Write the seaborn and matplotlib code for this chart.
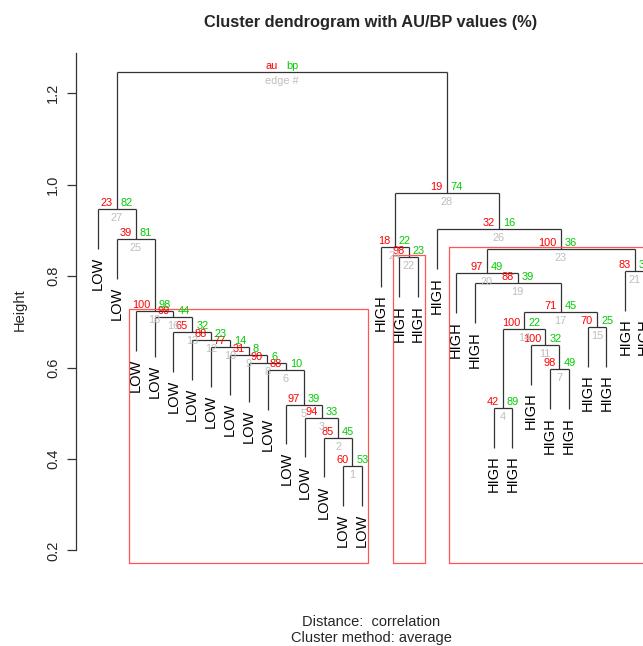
import matplotlib
matplotlib.use('Agg')
import matplotlib.pyplot as plt
import seaborn as sns

# leaves in plotting order (position 1..30)
leaf_labels = ['LOW', 'LOW', 'LOW', 'LOW', 'LOW', 'LOW', 'LOW', 'LOW', 'LOW', 'LOW',
               'LOW', 'LOW', 'LOW', 'LOW', 'LOW',
               'HIGH', 'HIGH', 'HIGH', 'HIGH', 'HIGH', 'HIGH', 'HIGH', 'HIGH', 'HIGH', 'HIGH',
               'HIGH', 'HIGH', 'HIGH', 'HIGH', 'HIGH']

# merge table, hclust style: negative = leaf position, positive = earlier edge #
merge_left = [-14, -13, -12, -22, -11, -10, -25, -9, -8, -7,
              -24, -6, -5, 4, -27, -4, 14, -3, -21, -20,
              -29, -17, 20, -16, -2, -19, -1, 24, 27]
merge_right = [-15, 1, 2, -23, 3, 5, -26, 6, 8, 9,
               7, 10, 12, 11, -28, 13, 15, 16, 17, 19,
               -30, -18, 21, 22, 18, 23, 25, 26, 28]
merge_height = [0.384, 0.446, 0.490, 0.511, 0.519, 0.594, 0.596, 0.611, 0.627, 0.644,
                0.649, 0.660, 0.677, 0.684, 0.688, 0.710, 0.721, 0.723, 0.784, 0.806,
                0.811, 0.841, 0.859, 0.863, 0.881, 0.902, 0.946, 0.981, 1.246]

# AU / BP p-values (%) for edges 1..28 (edge 29 is the root)
au_values = [60, 85, 94, 42, 97, 88, 98, 90, 31, 77,
             100, 88, 65, 100, 70, 99, 71, 100, 88, 97,
             83, 98, 100, 18, 39, 32, 23, 19]
bp_values = [53, 45, 33, 89, 39, 10, 49, 6, 8, 14,
             32, 23, 32, 22, 25, 44, 45, 98, 39, 49,
             34, 23, 36, 22, 81, 16, 82, 74]

alpha = 95

sns.set_style('white')
plt.rcParams['font.family'] = ['Liberation Sans', 'DejaVu Sans']

fig = plt.figure(figsize=(6.43, 6.46), dpi=100)
ax = fig.add_axes([76.2 / 643, 80 / 646, 589.8 / 643, 513 / 646])

n = len(leaf_labels)
ymin, ymax = 0.166, 1.288
ax.set_xlim(1 - 0.04 * (n - 1), n + 0.04 * (n - 1))
ax.set_ylim(ymin, ymax)

hang = 0.1 * (max(merge_height) - min(merge_height))
line_col = '#333333'
label_shift = matplotlib.transforms.ScaledTranslation(0, -8 / 100, fig.dpi_scale_trans)

# position of each merge and its members
centers, members = {}, {}
for i, (a, b, h) in enumerate(zip(merge_left, merge_right, merge_height), start=1):
    xs, mem = [], []
    for c in (a, b):
        if c < 0:
            x, y0 = -c, h - hang
            mem.append(-c)
            ax.text(x, y0, leaf_labels[-c - 1], rotation=90, ha='center', va='top',
                    fontsize=10.5, color='black', transform=ax.transData + label_shift)
        else:
            x, y0 = centers[c], merge_height[c - 1]
            mem += members[c]
        ax.plot([x, x], [y0, h], color=line_col, lw=0.9, solid_capstyle='butt')
        xs.append(x)
    ax.plot(xs, [h, h], color=line_col, lw=0.9, solid_capstyle='butt')
    centers[i] = sum(xs) / 2
    members[i] = mem

# au / bp / edge labels
small = 7.9
for i in range(1, len(merge_height) + 1):
    x, h = centers[i], merge_height[i - 1]
    if i <= len(au_values):
        a_txt, b_txt, e_txt = str(au_values[i - 1]), str(bp_values[i - 1]), str(i)
    else:
        a_txt, b_txt, e_txt = 'au', 'bp', 'edge #'
    ax.annotate(a_txt, (x, h), xytext=(-4, 6), textcoords='offset pixels',
                ha='right', va='center', color='#FF0000', fontsize=small)
    ax.annotate(b_txt, (x, h), xytext=(4, 6), textcoords='offset pixels',
                ha='left', va='center', color='#00CD00', fontsize=small)
    ax.annotate(e_txt, (x, h), xytext=(0, -4), textcoords='offset pixels',
                ha='center', va='top', color='#BEBEBE', fontsize=small)

# pvrect: largest clusters with au >= alpha
mx = (ax.get_xlim()[1] - ax.get_xlim()[0]) / n / 3
my = (ymax - ymin) / 200
taken = set()
for i in range(len(au_values), 0, -1):
    if au_values[i - 1] >= alpha:
        mem = members[i]
        if not taken.intersection(mem):
            xl, xr = min(mem) - mx, max(mem) + mx
            yt, yb = merge_height[i - 1] + my, ymin + my
            ax.plot([xl, xl, xr, xr, xl], [yb, yt, yt, yb, yb], color='#FF5555', lw=0.9)
        taken.update(mem)

# axes styling
sns.despine(ax=ax, top=True, right=True, bottom=True)
ax.spines['left'].set_bounds(0.2, ymax)
ax.spines['left'].set_color(line_col)
ax.spines['left'].set_linewidth(0.9)
ax.set_xticks([])
ax.set_yticks([0.2, 0.4, 0.6, 0.8, 1.0, 1.2])
ax.set_yticklabels(['0.2', '0.4', '0.6', '0.8', '1.0', '1.2'], rotation=90, va='center')
ax.tick_params(axis='y', length=6.5, width=0.9, color=line_col, labelsize=10.5, pad=5, left=True)
ax.set_ylabel('Height', fontsize=10.5, labelpad=14)
ax.set_title('Cluster dendrogram with AU/BP values (%)', fontsize=11.8, fontweight='bold', pad=19)
ax.annotate('Distance:  correlation', (0.5, 0), xycoords='axes fraction', xytext=(0, -56),
            textcoords='offset pixels', ha='center', va='center', fontsize=10.5)
ax.annotate('Cluster method: average', (0.5, 0), xycoords='axes fraction', xytext=(0, -72),
            textcoords='offset pixels', ha='center', va='center', fontsize=10.5)

plt.savefig('out.png', dpi=100)
plt.close()
